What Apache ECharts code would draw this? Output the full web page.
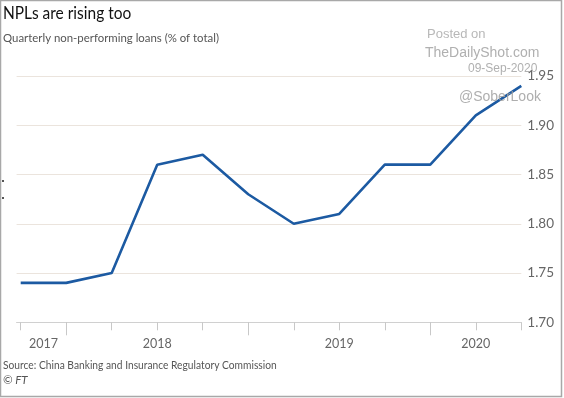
<!DOCTYPE html>
<html>
<head>
<meta charset="utf-8">
<script src="https://cdn.jsdelivr.net/npm/echarts@6/dist/echarts.min.js"></script>
<style>
  html, body { margin: 0; padding: 0; background: #fff; }
  #chart { width: 564px; height: 398px; }
</style>
</head>
<body>
<div id="chart"></div>
<script>
// quarterly NPL ratio
const quarters = [0, 1, 2, 3, 4, 5, 6, 7, 8, 9, 10, 11];
const nplRatio = [1.74, 1.74, 1.75, 1.86, 1.87, 1.83, 1.80, 1.81, 1.86, 1.86, 1.91, 1.94];
const yearLabels = ["2017", "2018", "2019", "2020"];
const yearLabelPos = [0.5, 3, 7, 10];
const yearStartTicks = [1, 5, 9];

const textFont = "Lato";
const markFont = "Liberation Sans";

let chart = echarts.init(document.getElementById("chart"));

let option = {
  backgroundColor: "#fff",
  animation: false,
  grid: {
    left: 16.6,
    right: 42.7,
    top: 76,
    bottom: 75.7
  },
  xAxis: [{
    type: "value",
    min: -0.09,
    max: 11,
    position: "bottom",
    splitLine: { show: false },
    axisLine: { show: true, lineStyle: { color: "#d0d0d0", width: 1 } },
    axisTick: {
      show: true,
      customValues: quarters,
      length: 8,
      lineStyle: { color: "#c8c8c8" }
    },
    axisLabel: {
      customValues: yearLabelPos,
      margin: 15,
      color: "#666",
      fontFamily: textFont,
      fontSize: 12.5,
      formatter: function (v) {
        let i = yearLabelPos.indexOf(v);
        return i >= 0 ? yearLabels[i] : "";
      }
    }
  }, {
    type: "value",
    min: -0.09,
    max: 11,
    position: "bottom",
    splitLine: { show: false },
    axisLine: { show: false },
    axisTick: {
      show: true,
      customValues: yearStartTicks,
      length: 13,
      lineStyle: { color: "#c8c8c8" }
    },
    axisLabel: { show: false }
  }],
  yAxis: {
    type: "value",
    position: "right",
    min: 1.70,
    max: 1.95,
    interval: 0.05,
    axisLine: { show: false },
    axisTick: { show: false },
    splitLine: { show: true, lineStyle: { color: "#ebe4dd", width: 1 } },
    axisLabel: {
      margin: 6,
      color: "#666",
      fontFamily: textFont,
      fontSize: 13.5,
      formatter: function (v) { return v.toFixed(2); }
    }
  },
  series: [{
    type: "line",
    data: quarters.map(function (q, i) { return [q, nplRatio[i]]; }),
    symbol: "none",
    lineStyle: { color: "#1c5aa2", width: 2.6 },
    z: 3
  }],
  graphic: [
    //边框
    { type: "rect", shape: { x: 0.5, y: 0.5, width: 561, height: 396 }, style: { fill: "none", stroke: "#a8a8a8", lineWidth: 1.5 }, z: 100 },
    { type: "text", left: 3, top: 5, scaleX: 0.91, style: { text: "NPLs are rising too", fontFamily: textFont, fontSize: 17, fill: "#111" } },
    { type: "text", left: 3, top: 32, scaleX: 0.95, style: { text: "Quarterly non-performing loans (% of total)", fontFamily: textFont, fontSize: 12, fill: "#555" } },
    { type: "text", left: 3, top: 359, scaleX: 0.89, style: { text: "Source: China Banking and Insurance Regulatory Commission", fontFamily: textFont, fontSize: 11.5, fill: "#555" } },
    { type: "text", left: 3, top: 374, style: { text: "© FT", fontFamily: textFont, fontSize: 11.5, fontStyle: "italic", fill: "#555" } },
    // watermark
    { type: "text", left: 427, top: 28, style: { text: "Posted on", fontFamily: markFont, fontSize: 13, fill: "#b8b8b8" }, z: 50 },
    { type: "text", left: 425, top: 46, style: { text: "TheDailyShot.com", fontFamily: markFont, fontSize: 14, fill: "#b0b0b0" }, z: 50 },
    { type: "text", left: 468, top: 63, style: { text: "09-Sep-2020", fontFamily: markFont, fontSize: 12, fill: "#b0b0b0" }, z: 50 },
    { type: "text", left: 459, top: 90, style: { text: "@SoberLook", fontFamily: markFont, fontSize: 14, fill: "rgba(160,160,160,0.85)" }, z: 50 },
    // small marks on the left edge
    { type: "rect", shape: { x: 2, y: 180, width: 2, height: 2 }, style: { fill: "#555" } },
    { type: "rect", shape: { x: 2, y: 197, width: 2, height: 2 }, style: { fill: "#555" } }
  ]
};
chart.setOption(option);
</script>
</body>
</html>
